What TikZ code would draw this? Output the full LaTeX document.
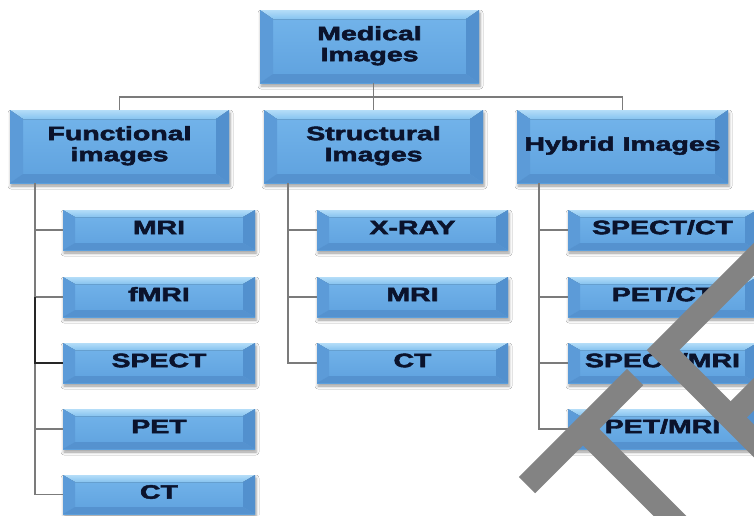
\documentclass[tikz,border=0pt]{standalone}
\usepackage{fontspec}
\newfontfamily\lblfont{Liberation Sans}[BoldFeatures={FakeBold=2.2}]
\usetikzlibrary{calc,shadows.blur}
\pgfdeclarelayer{bg}
\pgfsetlayers{bg,main}

\definecolor{lbltext}{HTML}{0B132C}
\definecolor{bodytop}{HTML}{74B5EB}
\definecolor{bodybot}{HTML}{5EA1DE}
\definecolor{toptop}{HTML}{B4DDF8}
\definecolor{topbot}{HTML}{86C3F0}
\definecolor{leftc}{HTML}{5C9BD8}
\definecolor{rightc}{HTML}{5290CE}
\definecolor{botc}{HTML}{5592CF}
\definecolor{linegray}{HTML}{7B7B7B}
\definecolor{linedark}{HTML}{262626}
\definecolor{wmgray}{HTML}{838383}

\tikzset{
  boxtxt/.style={inner sep=0pt, outer sep=0pt, align=center, text=lbltext,
    font=\lblfont\bfseries\fontsize{19.5}{21}\selectfont},
  boxbody/.style={top color=bodytop, bottom color=bodybot,
    blur shadow={shadow xshift=1pt, shadow yshift=-3pt, shadow blur radius=3pt, shadow opacity=40}},
  topface/.style={top color=toptop, bottom color=topbot},
  leftface/.style={fill=leftc},
  rightface/.style={fill=rightc},
  botface/.style={fill=botc},
  conn/.style={draw=linegray, line width=1.6pt},
  conndark/.style={draw=linedark, line width=1.6pt},
  wmstroke/.style={draw=wmgray, line width=23pt, line cap=butt, line join=miter}
}

% horizontally widened bold label, one or more lines
\newcommand\lbl[1]{\scalebox{1.46}[1]{\begin{tabular}{@{}c@{}}#1\end{tabular}}}

% bevelled box: name, x1, y1, x2, y2, bevel width, bevel height, text
\newcommand\bevbox[8]{%
  \node[boxtxt, minimum width={#4-#2}, minimum height={#5-#3}] (#1)
    at ({(#2+#4)/2},{(#3+#5)/2}) {\lbl{#8}};
  \begin{pgfonlayer}{bg}
    \fill[boxbody] (#1.north west) rectangle (#1.south east);
    \fill[topface] (#1.north west) -- (#1.north east) -- ($(#1.north east)+(-#6,#7)$)
      -- ($(#1.north west)+(#6,#7)$) -- cycle;
    \fill[leftface] (#1.north west) -- ($(#1.north west)+(#6,#7)$)
      -- ($(#1.south west)+(#6,-#7)$) -- (#1.south west) -- cycle;
    \fill[rightface] (#1.north east) -- ($(#1.north east)+(-#6,#7)$)
      -- ($(#1.south east)+(-#6,-#7)$) -- (#1.south east) -- cycle;
    \fill[botface] (#1.south west) -- ($(#1.south west)+(#6,-#7)$)
      -- ($(#1.south east)+(-#6,-#7)$) -- (#1.south east) -- cycle;
  \end{pgfonlayer}%
}

\begin{document}
\begin{tikzpicture}[x=1pt, y=-1pt]
  \useasboundingbox (0,0) rectangle (754,515);
  \begin{pgfonlayer}{bg}
    \fill[white] (0,0) rectangle (754,515);
  \end{pgfonlayer}

  % root and the three categories
  \bevbox{med}{260}{10}{479}{83}{13}{9}{Medical\\Images}
  \bevbox{fun}{10}{110}{229}{183}{13}{9}{Functional\\images}
  \bevbox{str}{264}{110}{483}{183}{13}{9}{Structural\\Images}
  \bevbox{hyb}{517}{110}{728}{183}{13}{9}{Hybrid Images}

  % functional images
  \bevbox{fmri}{63}{210}{255}{250}{12}{7}{MRI}
  \bevbox{ffmri}{63}{277}{255}{317}{12}{7}{fMRI}
  \bevbox{fspect}{63}{343}{255}{383}{12}{7}{SPECT}
  \bevbox{fpet}{63}{409}{255}{449}{12}{7}{PET}
  \bevbox{fct}{63}{475}{255}{514}{12}{7}{CT}

  % structural images
  \bevbox{sxray}{317}{210}{508}{250}{12}{7}{X-RAY}
  \bevbox{smri}{317}{277}{508}{317}{12}{7}{MRI}
  \bevbox{sct}{317}{343}{508}{383}{12}{7}{CT}

  % hybrid images
  \bevbox{hspct}{568}{210}{757}{250}{12}{7}{SPECT/CT}
  \bevbox{hpetct}{568}{277}{757}{317}{12}{7}{PET/CT}
  \bevbox{hspmri}{568}{343}{757}{383}{12}{7}{SPECT/MRI}
  \bevbox{hpetmri}{568}{409}{757}{449}{12}{7}{PET/MRI}

  % tree connectors
  \coordinate (bus) at (0,97);
  \draw[conn] (med.south -| str.north) -- (str.north);
  \draw[conn] (fun.north) -- (fun.north |- bus) -| (hyb.north);

  \coordinate (fsp) at (35,0);
  \coordinate (ssp) at (288,0);
  \coordinate (hsp) at (539,0);

  \draw[conn] (fun.south -| fsp) |- (fct.west);
  \foreach \c in {fmri,ffmri,fpet}
    \draw[conn] (fsp |- \c.west) -- (\c.west);
  \draw[conndark] (fsp |- ffmri.west) |- (fspect.west);

  \draw[conn] (str.south -| ssp) |- (sct.west);
  \foreach \c in {sxray,smri}
    \draw[conn] (ssp |- \c.west) -- (\c.west);

  \draw[conn] (hyb.south -| hsp) |- (hpetmri.west);
  \foreach \c in {hspct,hpetct,hspmri}
    \draw[conn] (hsp |- \c.west) -- (\c.west);

  % grey strokes over the lower right corner
  \draw[wmstroke] (527,485) -- (635,377);
  \draw[wmstroke] (583,429) -- (690,536);
  \draw[wmstroke] (773,240) -- (663,350) -- (773,460);
  \draw[wmstroke] (738,410) -- (764,384);
\end{tikzpicture}
\end{document}
